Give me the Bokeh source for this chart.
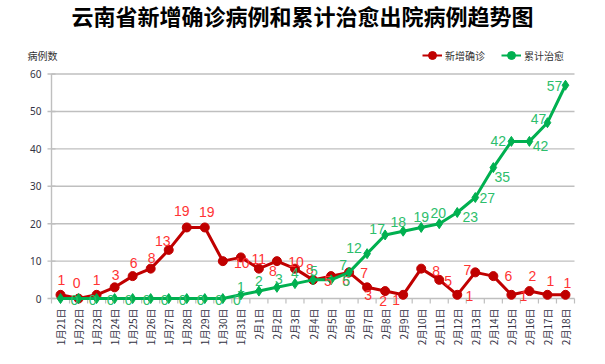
import math
from bokeh.plotting import figure
from bokeh.models import (Range1d, FixedTicker, ColumnDataSource, LabelSet, Label,
                          Legend, LegendItem)
from bokeh.core.properties import value
from bokeh.embed import file_html
from bokeh.resources import INLINE

dates = ["1月21日", "1月22日", "1月23日", "1月24日", "1月25日", "1月26日", "1月27日",
         "1月28日", "1月29日", "1月30日", "1月31日", "2月1日", "2月2日", "2月3日",
         "2月4日", "2月5日", "2月6日", "2月7日", "2月8日", "2月9日", "2月10日",
         "2月11日", "2月12日", "2月13日", "2月14日", "2月15日", "2月16日", "2月17日",
         "2月18日"]
new_cases = [1, 0, 1, 3, 6, 8, 13, 19, 19, 10, 11, 8, 10, 8, 5, 6, 7, 3, 2, 1,
             8, 5, 1, 7, 6, 1, 2, 1, 1]
cured = [0, 0, 0, 0, 0, 0, 0, 0, 0, 0, 1, 2, 3, 4, 5, 5, 7, 12, 17, 18,
         19, 20, 23, 27, 35, 42, 42, 47, 57]
y_ticks = [0, 10, 20, 30, 40, 50, 60]

# label placement (screen pixel offsets: right, down)
red_dx = [1, -2, 0, 1, 1, 1, -6, -5, 2, 19, 18, 14, 19, 15, 15, 15, 15, 1, -2, -7,
          15, 9, 12, -8, 15, 12, 3, 3, 2]
red_dy = [-15, -16, -15, -12, -13, -11, -9, -16, -15, 2, 2, 2, 1, 0, 1, 5, 1, 8, 10, 5,
          2, 1, 1, -2, 0, 1, -15, -14, -12]
grn_dx = [14] * 10 + [0, 0, 2, 0, 1, 15, -6, -13, -8, -5, 0, -1, 13, 12, 9, -13, 11, -9, -11]
grn_dy = [1] * 10 + [-8, -10, -8, -11, -9, 1, -7, -6, -6, -9, -10, -11, 5, 0, 9, 0, 5, -4, 1]

RED = "#C00000"
RED_TXT = "#FF3333"
GRN = "#00B050"
GRN_TXT = "#2DBE6C"
AXIS = "#BFBFBF"
CJK = "Noto Sans CJK SC"

n = len(dates)
idx = list(range(n))
left_edge, right_edge = -0.5, n - 0.5
src_r = ColumnDataSource(dict(x=idx, y=new_cases, t=[str(v) for v in new_cases],
                              dx=red_dx, dy=[-d for d in red_dy]))
src_g = ColumnDataSource(dict(x=idx, y=cured, t=[str(v) for v in cured],
                              dx=grn_dx, dy=[-d for d in grn_dy]))

# layout (pixels from top-left of the canvas)
W, H = 589, 348
FRAME_BOTTOM = 310          # frame spans 0..310, bottom axis panel below
AX_L, AX_R = 51, 574        # category band
Y_TOP, Y_ZERO = 74, 300     # pixel rows of 60 and 0
TICK = 5
px_per_cat = (AX_R - AX_L) / n
px_per_unit = (Y_ZERO - Y_TOP) / (y_ticks[-1] - y_ticks[0])
x_start = left_edge - AX_L / px_per_cat
x_end = right_edge + (W - AX_R) / px_per_cat
y_start = y_ticks[0] - (FRAME_BOTTOM - Y_ZERO) / px_per_unit
y_end = y_ticks[-1] + Y_TOP / px_per_unit

p = figure(width=W, height=H, output_backend="svg", toolbar_location=None,
           x_range=Range1d(x_start, x_end), y_range=Range1d(y_start, y_end),
           y_axis_location=None,
           min_border_left=0, min_border_right=0, min_border_top=0,
           min_border_bottom=H - FRAME_BOTTOM)
p.outline_line_color = None
p.background_fill_color = "white"
p.border_fill_color = "white"
p.grid.visible = False

# value axis (grid, axis line, ticks, tick labels) drawn through the data scales
p.segment(x0=[left_edge] * len(y_ticks), x1=[right_edge] * len(y_ticks),
          y0=y_ticks, y1=y_ticks, line_color=AXIS, line_width=1.4)
p.segment(x0=[left_edge], x1=[left_edge], y0=[y_ticks[0]], y1=[y_ticks[-1]],
          line_color=AXIS, line_width=1.4)
p.scatter(x=[left_edge] * len(y_ticks), y=y_ticks, marker="dash", size=8,
          line_color=AXIS, line_width=1.4)
p.text(x=[left_edge] * len(y_ticks), y=y_ticks, text=[str(v) for v in y_ticks],
       x_offset=-10, text_align="right", text_baseline="middle",
       text_font=value("Noto Sans"), text_font_size="10px", text_color="#333344")

# category boundary ticks below the zero line
bounds = [i - 0.5 for i in range(n + 1)]
p.segment(x0=bounds, x1=bounds, y0=[y_ticks[0]] * len(bounds),
          y1=[y_ticks[0] - TICK / px_per_unit] * len(bounds),
          line_color=AXIS, line_width=1.2)

# category axis labels
p.xaxis.ticker = FixedTicker(ticks=idx)
p.xaxis.major_label_overrides = {i: d for i, d in enumerate(dates)}
p.xaxis.major_label_orientation = math.pi / 2
p.xaxis.axis_line_color = None
p.xaxis.major_tick_line_color = None
p.xaxis.minor_tick_line_color = None
p.xaxis.major_tick_out = 0
p.xaxis.major_tick_in = 0
p.xaxis.major_label_standoff = 0
p.xaxis.major_label_text_font = CJK
p.xaxis.major_label_text_font_size = "10px"
p.xaxis.major_label_text_color = "#333344"

rl = p.line("x", "y", source=src_r, line_color=RED, line_width=3)
rs = p.scatter("x", "y", source=src_r, marker="circle", size=9,
               fill_color=RED, line_color=RED)
gl = p.line("x", "y", source=src_g, line_color=GRN, line_width=3)
gs = p.scatter("x", "y", source=src_g, marker="diamond", size=10,
               fill_color=GRN, line_color=GRN)

for src, col in ((src_r, RED_TXT), (src_g, GRN_TXT)):
    p.add_layout(LabelSet(x="x", y="y", text="t", source=src, x_offset="dx", y_offset="dy",
                          text_align="center", text_baseline="middle",
                          text_font=value("Liberation Sans"), text_font_size="14px",
                          text_color=col))

p.add_layout(Label(x=302, y=FRAME_BOTTOM - 16, x_units="screen", y_units="screen",
                   text="云南省新增确诊病例和累计治愈出院病例趋势图",
                   text_align="center", text_baseline="middle", text_font=CJK,
                   text_font_style="bold", text_font_size="22px", text_color="black"))
p.add_layout(Label(x=27, y=FRAME_BOTTOM - 57, x_units="screen", y_units="screen",
                   text="病例数", text_align="left", text_baseline="middle",
                   text_font=CJK, text_font_size="10px", text_color="#333333"))

# legend swatches (smaller than the plotted markers, as in the original);
# their single point lies outside the visible range so only the legend shows them
off = dict(x=[x_end + 10], y=[y_ticks[0]])
lr_line = p.line(line_color=RED, line_width=2, **off)
lr_mark = p.scatter(marker="circle", size=6, fill_color=RED, line_color=RED, **off)
lg_line = p.line(line_color=GRN, line_width=2, **off)
lg_mark = p.scatter(marker="circle", size=5, fill_color=GRN, line_color=GRN, **off)

legend = Legend(items=[LegendItem(label="新增确诊", renderers=[lr_line, lr_mark]),
                       LegendItem(label="累计治愈", renderers=[lg_line, lg_mark])],
                orientation="horizontal", location=(422, FRAME_BOTTOM - 67),
                padding=0, margin=0, spacing=16, label_standoff=3,
                glyph_width=20, glyph_height=20, label_height=20,
                border_line_color=None, background_fill_alpha=0,
                label_text_font=CJK, label_text_font_size="10px",
                label_text_color="#333333")
p.add_layout(legend)

open("out.html", "w").write(file_html(p, INLINE))
